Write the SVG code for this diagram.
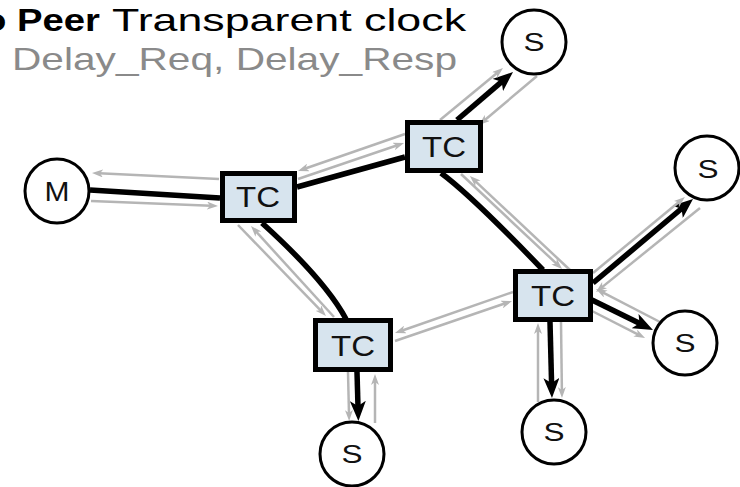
<svg xmlns="http://www.w3.org/2000/svg" width="740" height="487" viewBox="0 0 740 487">
  <style>
    .title { font-family: "Liberation Sans", Arial, sans-serif; font-size: 32px; }
    .lbl { font-family: "Liberation Sans", Arial, sans-serif; text-anchor: middle; fill: #111; }
    .clock { fill: #ffffff; stroke: #000; stroke-width: 3; }
    .tc { fill: #d7e4ee; stroke: #000; stroke-width: 5; }
    .sync { fill: none; stroke: #000; stroke-width: 5.5; }
    .pdelay { fill: none; stroke: #b5b5b5; stroke-width: 2.5; }
    .pdelay-a { fill: none; stroke: #b5b5b5; stroke-width: 2.5; marker-end: url(#head-grey); }
    .sync-a { fill: none; stroke: #000; stroke-width: 5.5; marker-end: url(#head-black); }
  </style>
  <defs>
    <marker id="head-black" markerUnits="userSpaceOnUse" viewBox="0 0 20 16" markerWidth="20" markerHeight="16" refX="6" refY="8" orient="auto">
      <path d="M0,0 L20,8 L0,16 L5,8 z" fill="#000"/>
    </marker>
    <marker id="head-grey" markerUnits="userSpaceOnUse" viewBox="0 0 11 8" markerWidth="11" markerHeight="8" refX="4" refY="4" orient="auto">
      <path d="M0,0 L11,4 L0,8 L3,4 z" fill="#b5b5b5"/>
    </marker>
  </defs>

  <!-- heading -->
  <text class="title" x="-17" y="31" font-weight="bold" textLength="117" lengthAdjust="spacingAndGlyphs">o Peer</text>
  <text class="title" x="112" y="31" textLength="354" lengthAdjust="spacingAndGlyphs">Transparent clock</text>
  <text class="title" x="12" y="70" fill="#8a8a8a" textLength="445" lengthAdjust="spacingAndGlyphs">Delay_Req, Delay_Resp</text>

  <!-- links: black = sync path, grey = peer delay messages -->
  <g id="connectors">
    <!-- M - TC1 -->
    <line class="sync" x1="90" y1="190" x2="220" y2="198"/>
    <line class="pdelay-a" x1="219" y1="179" x2="99" y2="173.3"/>
    <line class="pdelay-a" x1="91" y1="201" x2="211" y2="205.7"/>

    <!-- TC1 - TC2 -->
    <line class="sync" x1="297" y1="187" x2="405" y2="157"/>
    <line class="pdelay-a" x1="405" y1="134" x2="304.6" y2="168.7"/>
    <line class="pdelay-a" x1="298" y1="179" x2="397.4" y2="145.2"/>

    <!-- TC2 - S (top) -->
    <line class="sync-a" x1="457" y1="120" x2="502.4" y2="81.1"/>
    <line class="pdelay-a" x1="440" y1="120" x2="497.6" y2="72.5"/>
    <line class="pdelay-a" x1="537" y1="76" x2="484.3" y2="120.5"/>

    <!-- TC2 - TC3 -->
    <path class="sync" d="M441,173 Q472,196 543,270"/>
    <line class="pdelay-a" x1="570" y1="270" x2="475" y2="180.8"/>
    <line class="pdelay-a" x1="461" y1="174" x2="557" y2="264.2"/>

    <!-- TC1 - TC4 -->
    <path class="sync" d="M262,223 Q325,280 346,319"/>
    <line class="pdelay-a" x1="238" y1="225" x2="321.1" y2="310.9"/>
    <line class="pdelay-a" x1="334" y1="317" x2="255.7" y2="231.2"/>

    <!-- TC4 - TC3 -->
    <line class="pdelay-a" x1="513" y1="292" x2="401.6" y2="330.7"/>
    <line class="pdelay-a" x1="395" y1="341" x2="505.4" y2="303.3"/>

    <!-- TC4 - S (bottom) -->
    <line class="sync-a" x1="357" y1="372" x2="358" y2="407"/>
    <line class="pdelay-a" x1="348" y1="372" x2="349" y2="414"/>
    <line class="pdelay-a" x1="375" y1="423" x2="375" y2="381"/>

    <!-- TC3 - S (bottom right) -->
    <line class="sync-a" x1="550" y1="322" x2="551.6" y2="384"/>
    <line class="pdelay-a" x1="538" y1="402" x2="538" y2="330"/>
    <line class="pdelay-a" x1="561" y1="322" x2="561.9" y2="391"/>

    <!-- TC3 - S (right, upper) -->
    <line class="sync-a" x1="593" y1="283" x2="682.3" y2="208"/>
    <line class="pdelay-a" x1="593" y1="273" x2="679.5" y2="201.5"/>
    <line class="pdelay-a" x1="700" y1="208" x2="601.5" y2="287.6"/>

    <!-- TC3 - S (right, lower) -->
    <line class="sync-a" x1="592" y1="300" x2="640.4" y2="323.8"/>
    <line class="pdelay-a" x1="660" y1="322" x2="602.2" y2="292.2"/>
    <line class="pdelay-a" x1="592" y1="311" x2="638.8" y2="334.8"/>
  </g>

  <!-- master clock -->
  <g id="master">
    <circle class="clock" cx="57" cy="191" r="32"/>
    <text class="lbl" x="57" y="201" font-size="28" textLength="25" lengthAdjust="spacingAndGlyphs">M</text>
  </g>

  <!-- transparent clocks -->
  <g id="tc1">
    <rect class="tc" x="222.5" y="173.5" width="72" height="47"/>
    <text class="lbl" x="258" y="207" font-size="30" textLength="44" lengthAdjust="spacingAndGlyphs">TC</text>
  </g>
  <g id="tc2">
    <rect class="tc" x="407.5" y="122.5" width="73" height="48"/>
    <text class="lbl" x="444" y="157" font-size="30" textLength="44" lengthAdjust="spacingAndGlyphs">TC</text>
  </g>
  <g id="tc3">
    <rect class="tc" x="515.5" y="271.5" width="75" height="48"/>
    <text class="lbl" x="553" y="306" font-size="30" textLength="44" lengthAdjust="spacingAndGlyphs">TC</text>
  </g>
  <g id="tc4">
    <rect class="tc" x="315.5" y="320.5" width="75" height="49"/>
    <text class="lbl" x="353" y="356" font-size="30" textLength="44" lengthAdjust="spacingAndGlyphs">TC</text>
  </g>

  <!-- slave clocks -->
  <g id="s-top">
    <circle class="clock" cx="534" cy="42" r="32"/>
    <text class="lbl" x="534" y="51" font-size="26" textLength="21" lengthAdjust="spacingAndGlyphs">S</text>
  </g>
  <g id="s-right-upper">
    <circle class="clock" cx="707" cy="168" r="32"/>
    <text class="lbl" x="708" y="178" font-size="26" textLength="21" lengthAdjust="spacingAndGlyphs">S</text>
  </g>
  <g id="s-right-lower">
    <circle class="clock" cx="685" cy="343" r="32"/>
    <text class="lbl" x="685" y="352" font-size="26" textLength="21" lengthAdjust="spacingAndGlyphs">S</text>
  </g>
  <g id="s-bottom-right">
    <circle class="clock" cx="554" cy="432" r="32"/>
    <text class="lbl" x="554" y="441" font-size="26" textLength="21" lengthAdjust="spacingAndGlyphs">S</text>
  </g>
  <g id="s-bottom">
    <circle class="clock" cx="352" cy="454" r="32"/>
    <text class="lbl" x="352" y="463" font-size="26" textLength="21" lengthAdjust="spacingAndGlyphs">S</text>
  </g>
</svg>
